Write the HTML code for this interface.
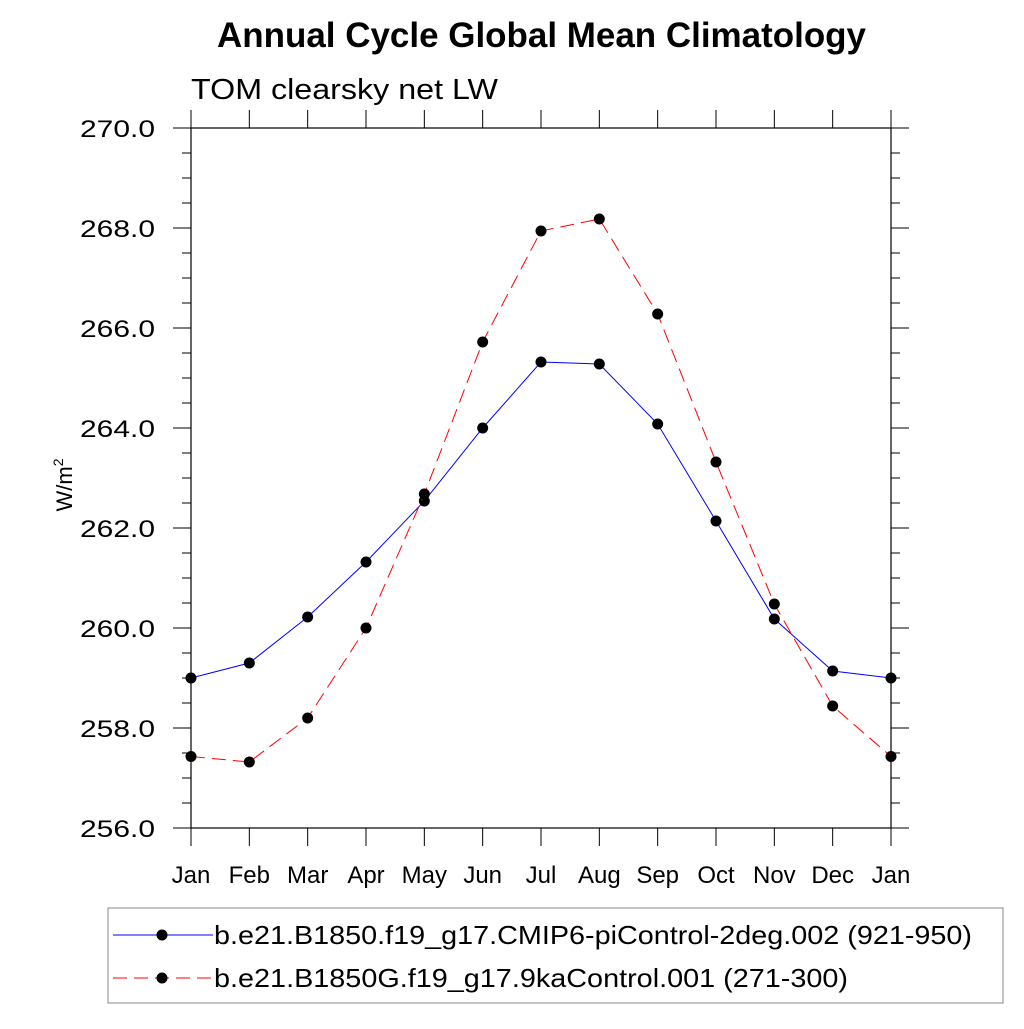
<!DOCTYPE html>
<html><head><meta charset="utf-8"><style>body{margin:0;background:#fff}svg text{font-family:"Liberation Sans",sans-serif}</style></head>
<body>
<svg id="chart" width="1024" height="1024" viewBox="0 0 1024 1024">
<text x="217" y="47" font-size="35" font-weight="bold" textLength="649" lengthAdjust="spacingAndGlyphs">Annual Cycle Global Mean Climatology</text>
<text x="191" y="99" font-size="29" textLength="307" lengthAdjust="spacingAndGlyphs">TOM clearsky net LW</text>
<text transform="translate(72,485) rotate(-90)" font-size="22" text-anchor="middle">W/m<tspan dy="-9" font-size="14">2</tspan></text>
<g id="axes"></g><g id="series"></g>
<rect x="108" y="908" width="895" height="95" fill="none" stroke="#888" stroke-width="1"/>
<g>
<line x1="113" y1="935" x2="213" y2="935" stroke="#00f" stroke-width="1"/><circle cx="162" cy="935" r="5.5" fill="#000"/>
<text x="214" y="944" font-size="26" textLength="758" lengthAdjust="spacingAndGlyphs">b.e21.B1850.f19_g17.CMIP6-piControl-2deg.002 (921-950)</text></g>
<g>
<line x1="113" y1="978" x2="213" y2="978" stroke="#f00" stroke-width="1" stroke-dasharray="14,7"/><circle cx="162" cy="978" r="5.5" fill="#000"/>
<text x="214" y="987" font-size="26" textLength="634" lengthAdjust="spacingAndGlyphs">b.e21.B1850G.f19_g17.9kaControl.001 (271-300)</text></g>
</svg>
<script>
const months=["Jan","Feb","Mar","Apr","May","Jun","Jul","Aug","Sep","Oct","Nov","Dec","Jan"];
const controlValues=[259.0,259.3,260.22,261.32,262.54,264.0,265.32,265.28,264.08,262.14,260.18,259.14,259.0];
const kaValues=[257.43,257.32,258.2,260.0,262.68,265.72,267.94,268.18,266.28,263.32,260.48,258.44,257.43];
const yTicks=[256,258,260,262,264,266,268,270];
const NS="http://www.w3.org/2000/svg";
const L=191,R=891,T=128,B=828,ymin=256,ymax=270;
const xs=i=>L+(R-L)*i/(months.length-1);
const ys=v=>B-(v-ymin)/(ymax-ymin)*(B-T);
function mk(tag,at,parent){const e=document.createElementNS(NS,tag);for(const k in at)e.setAttribute(k,at[k]);parent.appendChild(e);return e;}
const ax=document.getElementById('axes');
const frame=mk('rect',{x:L,y:T,width:R-L,height:B-T,fill:'none',stroke:'#000','stroke-width':1.2},ax);


for(let v=ymin;v<=ymax+1e-9;v+=0.5){const y=ys(v);const major=Math.abs(v%2)<1e-9;const len=major?18:9;
mk('line',{x1:L-len,y1:y,x2:L,y2:y,stroke:'#000'},ax);mk('line',{x1:R,y1:y,x2:R+len,y2:y,stroke:'#000'},ax);}
yTicks.forEach(v=>{const t=mk('text',{x:155,y:ys(v)+9,'font-size':24,'text-anchor':'end',textLength:75,lengthAdjust:'spacingAndGlyphs'},ax);t.textContent=v.toFixed(1);

});
months.forEach((m,i)=>{const x=xs(i);mk('line',{x1:x,y1:B,x2:x,y2:B+18,stroke:'#000'},ax);mk('line',{x1:x,y1:T-18,x2:x,y2:T,stroke:'#000'},ax);
const t=mk('text',{x:x,y:883,'font-size':24,'text-anchor':'middle'},ax);t.textContent=m;

});
const sg=document.getElementById('series');
function series(vals,color,dash,name){const g=mk('g',{},sg);


mk('polyline',{points:vals.map((v,i)=>xs(i)+','+ys(v)).join(' '),fill:'none',stroke:color,'stroke-width':1,'stroke-dasharray':dash},g);
vals.forEach((v,i)=>{const c=mk('circle',{cx:xs(i),cy:ys(v),r:5.5,fill:'#000'},g);

});}
series(controlValues,'#00f','none','control-series');
series(kaValues,'#f00','14,7','9ka-series');
</script>
</body></html>
